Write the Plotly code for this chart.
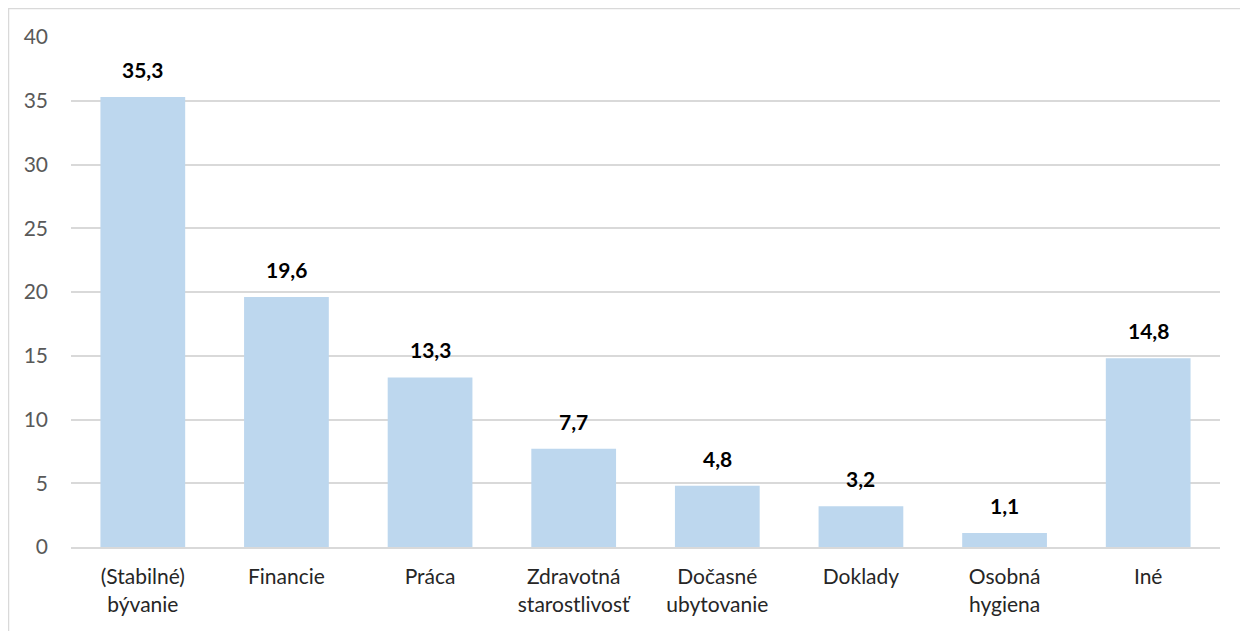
"""Bar chart: share of needs by category."""

import plotly.graph_objects as go

categories = [
    "(Stabilné)<br>bývanie",
    "Financie",
    "Práca",
    "Zdravotná<br>starostlivosť",
    "Dočasné<br>ubytovanie",
    "Doklady",
    "Osobná<br>hygiena",
    "Iné",
]
values = [35.3, 19.6, 13.3, 7.7, 4.8, 3.2, 1.1, 14.8]
y_ticks = [0, 5, 10, 15, 20, 25, 30, 35, 40]

bar_color = "#BDD7EE"
grid_color = "#D9D9D9"
tick_color = "#595959"
label_color = "#262626"
font_family = "Lato, Carlito, Calibri, sans-serif"

# the page body adds an 8px offset, so the figure is 8px smaller
fig_w, fig_h = 1240, 623
m_l, m_r, m_t, m_b = 63, 28, 29, 84
plot_w = fig_w - m_l - m_r
plot_h = fig_h - m_t - m_b

fig = go.Figure()

fig.add_trace(go.Bar(
    x=categories,
    y=values,
    marker=dict(color=bar_color, line=dict(width=0)),
    hoverinfo="skip",
    showlegend=False,
))

# Data labels above bars
for cat, val in zip(categories, values):
    fig.add_annotation(
        x=cat, y=val,
        text=f"<b>{val:.1f}</b>".replace(".", ","),
        showarrow=False,
        yanchor="bottom",
        yshift=13,
        font=dict(size=21, color="#000000", family=font_family),
    )

fig.update_layout(
    width=fig_w,
    height=fig_h,
    margin=dict(l=m_l, r=m_r, t=m_t, b=m_b),
    paper_bgcolor="white",
    plot_bgcolor="white",
    bargap=0.41,
    font=dict(family=font_family),
    xaxis=dict(
        showgrid=False,
        showline=True,
        linecolor=grid_color,
        linewidth=2,
        tickfont=dict(size=21, color=label_color),
        ticks="",
        ticklabelstandoff=10,
    ),
    yaxis=dict(
        range=[0, 40],
        tickvals=y_ticks,
        showgrid=True,
        gridcolor=grid_color,
        gridwidth=1.5,
        zeroline=False,
        showline=False,
        tickfont=dict(size=21, color=tick_color),
        ticks="",
        ticklabelstandoff=22,
    ),
)

# Chart-area border (runs off the right and bottom edges)
fig.add_shape(
    type="rect",
    xref="paper", yref="paper",
    x0=(0.5 - m_l) / plot_w, x1=1.05,
    y0=-0.3, y1=1 + (m_t - 0.5) / plot_h,
    line=dict(color=grid_color, width=1.5),
    fillcolor="rgba(0,0,0,0)",
    layer="below",
)

fig.write_html("out.html")
